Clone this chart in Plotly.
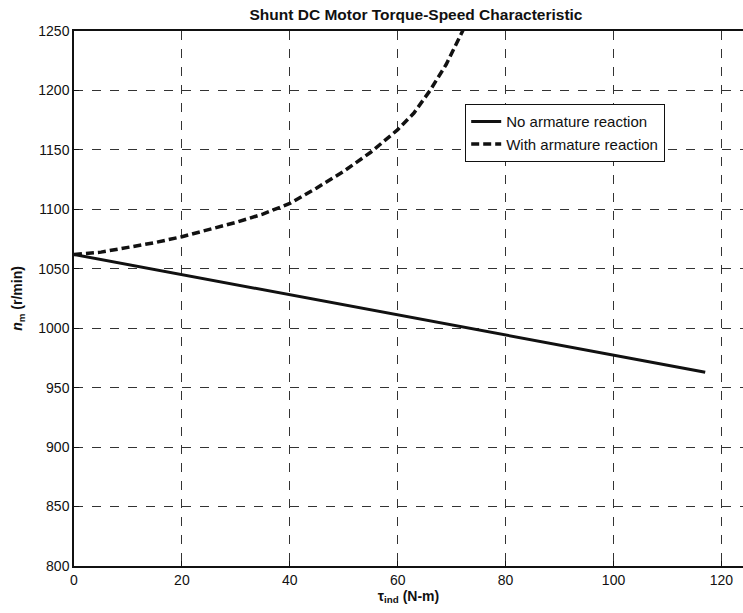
import plotly.graph_objects as go

# Data
torque_no_ar = [0, 20, 40, 60, 80, 100, 117]
speed_no_ar = [1062, 1045, 1028, 1011, 994, 977, 963]

torque_ar = [0, 5, 10, 15, 20, 25, 30, 35, 40, 45, 50, 55, 60, 63, 66, 69, 72, 73]
speed_ar = [1062, 1064, 1068, 1072, 1077, 1083, 1089, 1096, 1105, 1118, 1132, 1148,
            1167, 1181, 1200, 1222, 1250, 1259]

x_ticks = [0, 20, 40, 60, 80, 100, 120]
y_ticks = [800, 850, 900, 950, 1000, 1050, 1100, 1150, 1200, 1250]

W, H = 743, 613
L, R, T, B = 74, 0, 31, 47

fig = go.Figure()
fig.add_trace(go.Scatter(x=torque_no_ar, y=speed_no_ar, mode="lines",
                         name="No armature reaction",
                         line=dict(color="#111", width=3)))
fig.add_trace(go.Scatter(x=torque_ar, y=speed_ar, mode="lines",
                         name="With armature reaction",
                         line=dict(color="#111", width=3.5, dash="8px,4px")))

font = "Liberation Sans, Arial, Helvetica, sans-serif"
fig.update_layout(
    width=W, height=H,
    margin=dict(l=L, r=R, t=T, b=B),
    paper_bgcolor="white", plot_bgcolor="white",
    font=dict(family=font, color="#111", size=14),
    title=dict(text="<b>Shunt DC Motor Torque-Speed Characteristic</b>",
               x=416 / W, xanchor="center", xref="container",
               y=1 - 15 / H, yanchor="middle", yref="container",
               font=dict(size=15.5, family=font, color="#111")),
    showlegend=True,
    legend=dict(x=(465 - L) / (W - L - R), y=(H - B - 104) / (H - T - B),
                xanchor="left", yanchor="top",
                bgcolor="white", bordercolor="#111", borderwidth=1.2,
                font=dict(size=15, family=font), tracegroupgap=0,
                itemwidth=30),
    xaxis=dict(range=[0, 124], tickvals=x_ticks, ticktext=[str(v) for v in x_ticks],
               showline=True, linecolor="#111", linewidth=1.5, mirror=True,
               showgrid=True, gridcolor="#333", gridwidth=1, griddash="dash",
               ticks="inside", ticklen=5, tickcolor="#111", zeroline=False,
               title=dict(text="<b>τ<sub>ind</sub> (N-m)</b>", font=dict(size=14), standoff=4),
               tickfont=dict(size=14)),
    yaxis=dict(range=[800, 1250], tickvals=y_ticks, ticktext=[str(v) for v in y_ticks],
               showline=True, linecolor="#111", linewidth=1.5, mirror=False,
               showgrid=True, gridcolor="#333", gridwidth=1, griddash="dash",
               ticks="inside", ticklen=5, tickcolor="#111", zeroline=False,
               title=dict(text="<b><i>n</i><sub>m</sub> (r/min)</b>", font=dict(size=14), standoff=12),
               tickfont=dict(size=14)),
)

fig.write_html("out.html")
